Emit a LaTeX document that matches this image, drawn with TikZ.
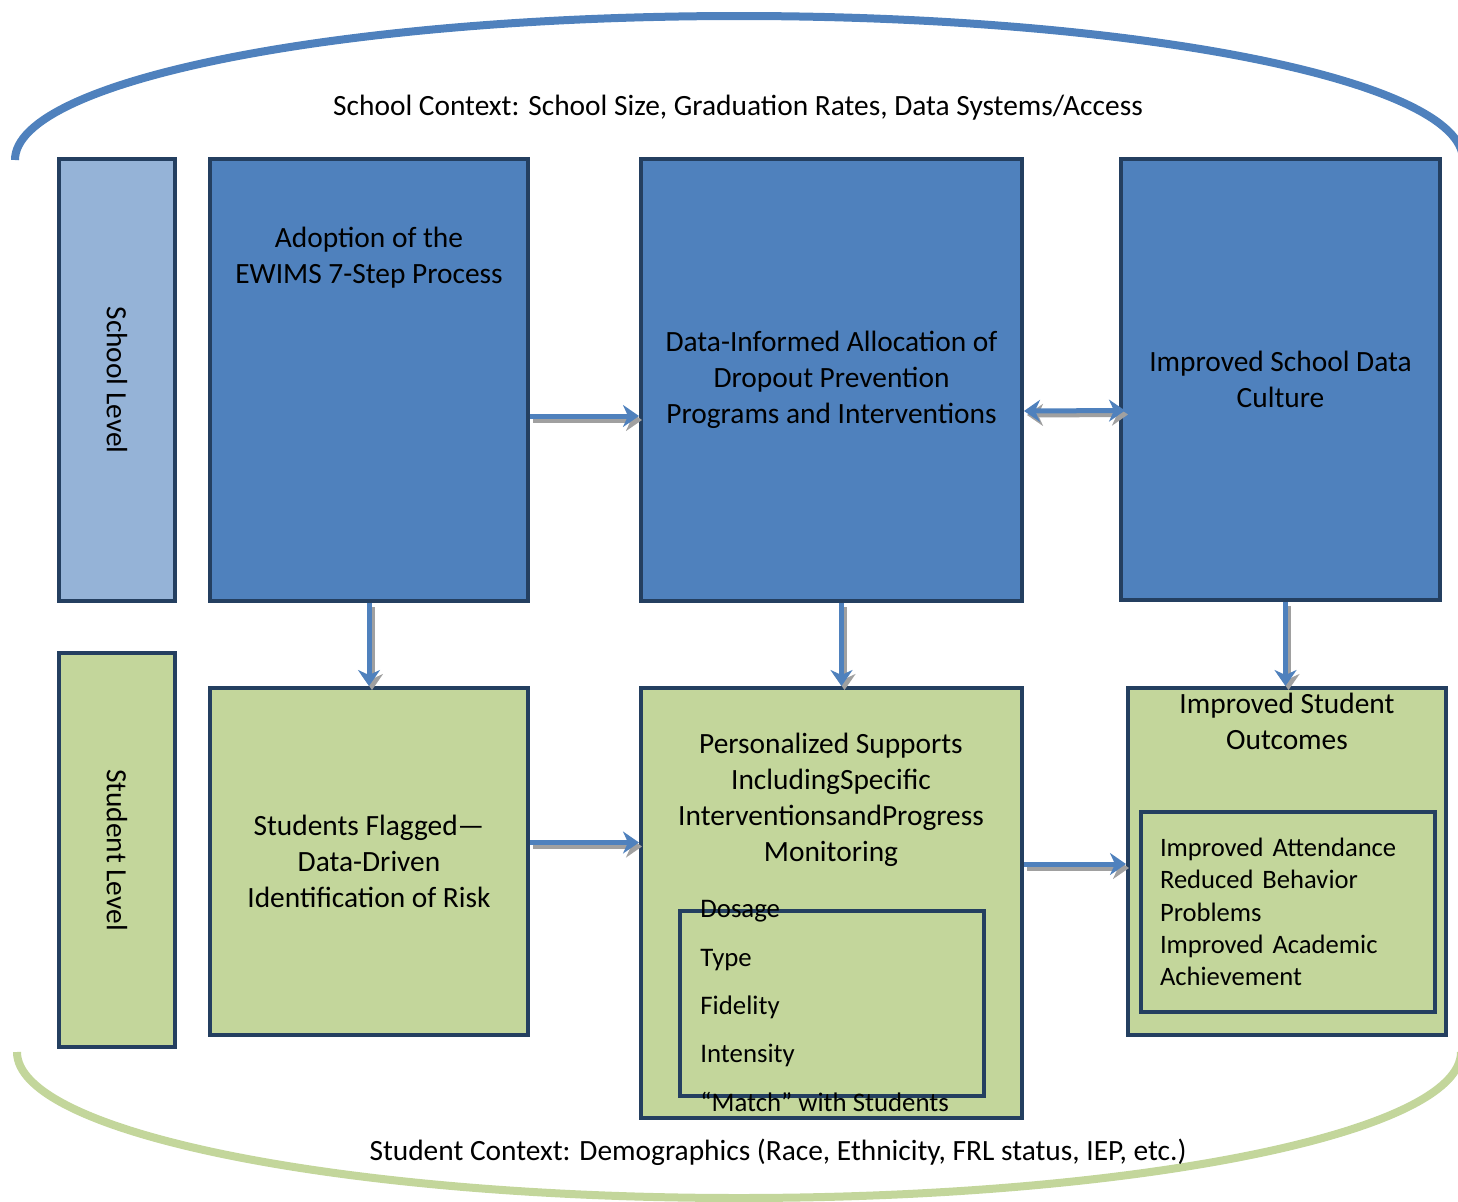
\documentclass[tikz,border=0pt]{standalone}
\usepackage{fontspec}
\setmainfont{Carlito}
\usetikzlibrary{arrows.meta}

\definecolor{boxblue}{HTML}{4F81BD}
\definecolor{lightblue}{HTML}{95B3D7}
\definecolor{boxgreen}{HTML}{C3D69B}
\definecolor{navy}{HTML}{243F60}
\definecolor{shade}{HTML}{A0A0A0}

\tikzset{
  box/.style={draw=navy, line width=2pt, inner sep=0pt, align=center,
    font=\fontsize{14.7}{18}\selectfont},
  tip/.style={-{Stealth[length=8pt,width=11pt,inset=2.5pt]}},
  tips/.style={{Stealth[length=8pt,width=11pt,inset=2.5pt]}-{Stealth[length=8pt,width=11pt,inset=2.5pt]}},
  flow/.style={draw=boxblue, line width=2.5pt, tip,
    preaction={draw=shade, line width=2.5pt, tip, transform canvas={shift={(1.5pt,-2pt)}}}},
  flowboth/.style={draw=boxblue, line width=2.5pt, tips,
    preaction={draw=shade, line width=2.5pt, tips, transform canvas={shift={(1.5pt,-2pt)}}}},
  txt/.style={font=\fontsize{14.7}{18}\selectfont, align=center, inner sep=0pt}
}

\begin{document}
\begin{tikzpicture}[x=0.5pt,y=-0.5pt]
  \useasboundingbox (0,0) rectangle (1458,1201);

  % context arcs
  \draw[boxblue, line width=4pt] (15,160) arc[start angle=180, end angle=360, x radius=724, y radius=144];
  \draw[boxgreen, line width=4pt] (17,1052) arc[start angle=180, end angle=0, x radius=722, y radius=146];
  \node[txt] (schoolctx) at (738,108) {School Context: School Size, Graduation Rates, Data Systems/Access};
  \node[txt] (studctx) at (778,1152) {Student Context: Demographics (Race, Ethnicity, FRL status, IEP, etc.)};

  % level boxes
  \node[box, fill=lightblue, minimum width=58pt, minimum height=221pt] (slevel) at (117,380) {};
  \node[box, fill=boxgreen, minimum width=58pt, minimum height=197pt] (stlevel) at (117,850) {};
  \node[txt, rotate=-90] (sleveltext) at (slevel) {School Level};
  \node[txt, rotate=-90] (stleveltext) at (stlevel) {Student Level};

  % school level row
  \node[box, fill=boxblue, minimum width=159pt, minimum height=221pt] (adopt) at (369,380) {};
  \node[txt] (adopttext) at (369,258) {Adoption of the\\EWIMS 7-Step Process};
  \node[box, fill=boxblue, minimum width=190.5pt, minimum height=221pt] (data) at (831.5,380)
    {Data-Informed Allocation of\\Dropout Prevention\\Programs and Interventions};
  \node[box, fill=boxblue, minimum width=159.5pt, minimum height=220.5pt] (culture) at (1280.5,379.5)
    {Improved School Data\\Culture};

  % student level row
  \node[box, fill=boxgreen, minimum width=159pt, minimum height=173.5pt] (flag) at (369,861.5)
    {Students Flagged---\\Data-Driven\\Identification of Risk};
  \node[box, fill=boxgreen, minimum width=190.5pt, minimum height=215pt] (pers) at (831.5,903) {};
  \node[txt] (perstext) at (831,800) {Personalized Supports\\IncludingSpecific\\InterventionsandProgress\\Monitoring};
  \node[box, draw=navy, minimum width=152pt, minimum height=92.5pt] (dosebox) at (832,1003.5) {};
  \node[inner sep=0pt, anchor=west, align=left, font=\fontsize{13.4}{24.2}\selectfont] (dosetext) at (700,1006)
    {Dosage\\Type\\Fidelity\\Intensity\\``Match'' with Students};
  \node[box, fill=boxgreen, minimum width=159pt, minimum height=173.5pt] (outcome) at (1287,861.5) {};
  \node[txt] (outcometext) at (1287,721) {Improved Student\\Outcomes};
  \node[box, minimum width=147pt, minimum height=100pt, align=left, text width=128pt,
    font=\fontsize{13.3}{16.2}\selectfont] (outlist) at (1288,912)
    {Improved Attendance\\Reduced Behavior\\Problems\\Improved Academic\\Achievement};

  % arrow ends
  \coordinate (cultdown) at ([xshift=2.5pt]culture.south);
  \coordinate (flagout) at ([yshift=9.5pt]flag.east);
  \coordinate (persout) at ([yshift=19.5pt]pers.east);

  % arrows
  \draw[flow] ([yshift=-18pt]adopt.east) -- ([yshift=-18pt]data.west);
  \draw[flowboth] ([yshift=-15.5pt]data.east) -- ([xshift=3pt,yshift=-15.5pt]culture.west);
  \draw[flow] (adopt.south) -- (flag.north);
  \draw[flow] ([xshift=5pt]data.south) -- ([xshift=5pt]pers.north);
  \draw[flow] (cultdown) -- (outcome.north -| cultdown);
  \draw[flow] (flagout) -- (pers.west |- flagout);
  \draw[flow] (persout) -- (outcome.west |- persout);
\end{tikzpicture}
\end{document}
